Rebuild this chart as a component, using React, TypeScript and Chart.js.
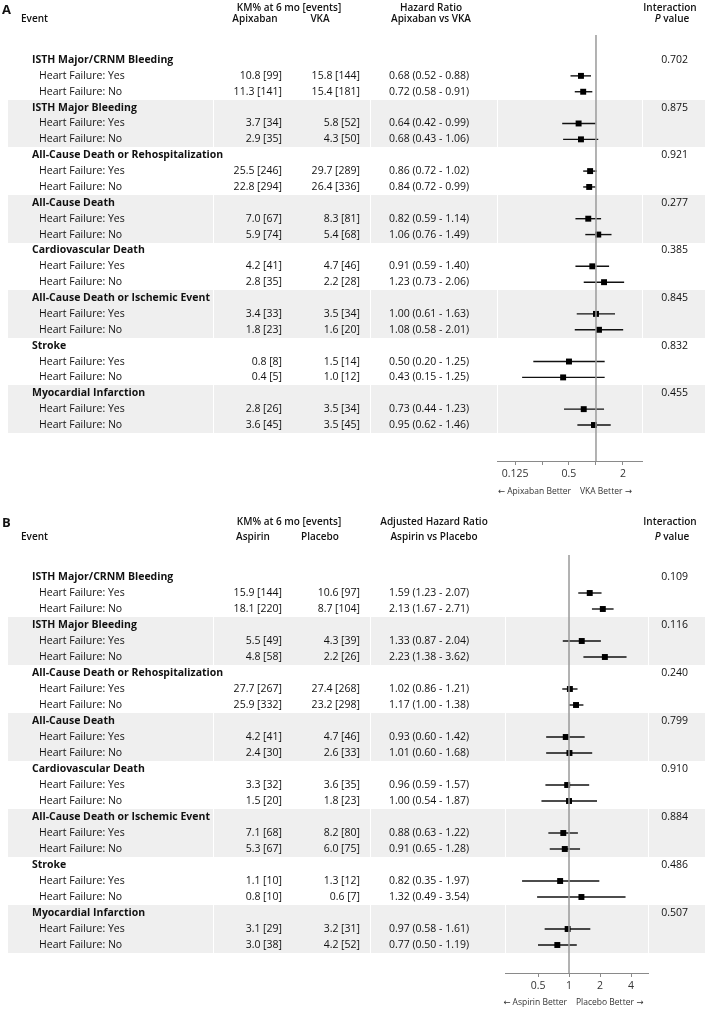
import React, { useEffect, useRef } from "react";
import { Chart, registerables } from "chart.js";
Chart.register(...registerables);

const FONT = "'Open Sans', 'Noto Sans', 'DejaVu Sans', sans-serif";

// ---------- shared ----------
const eventGroups = [
  "ISTH Major/CRNM Bleeding",
  "ISTH Major Bleeding",
  "All-Cause Death or Rehospitalization",
  "All-Cause Death",
  "Cardiovascular Death",
  "All-Cause Death or Ischemic Event",
  "Stroke",
  "Myocardial Infarction",
];
const subgroups = ["Heart Failure: Yes", "Heart Failure: No"];

// ---------- Panel A: Apixaban vs VKA ----------
const kmApixaban = [
  "10.8 [99]", "11.3 [141]", "3.7 [34]", "2.9 [35]", "25.5 [246]", "22.8 [294]", "7.0 [67]", "5.9 [74]",
  "4.2 [41]", "2.8 [35]", "3.4 [33]", "1.8 [23]", "0.8 [8]", "0.4 [5]", "2.8 [26]", "3.6 [45]",
];
const kmVKA = [
  "15.8 [144]", "15.4 [181]", "5.8 [52]", "4.3 [50]", "29.7 [289]", "26.4 [336]", "8.3 [81]", "5.4 [68]",
  "4.7 [46]", "2.2 [28]", "3.5 [34]", "1.6 [20]", "1.5 [14]", "1.0 [12]", "3.5 [34]", "3.5 [45]",
];
const hrA = [0.68, 0.72, 0.64, 0.68, 0.86, 0.84, 0.82, 1.06, 0.91, 1.23, 1.0, 1.08, 0.5, 0.43, 0.73, 0.95];
const loA = [0.52, 0.58, 0.42, 0.43, 0.72, 0.72, 0.59, 0.76, 0.59, 0.73, 0.61, 0.58, 0.2, 0.15, 0.44, 0.62];
const hiA = [0.88, 0.91, 0.99, 1.06, 1.02, 0.99, 1.14, 1.49, 1.4, 2.06, 1.63, 2.01, 1.25, 1.25, 1.23, 1.46];
const pA = ["0.702", "0.875", "0.921", "0.277", "0.385", "0.845", "0.832", "0.455"];
const ticksA = [0.125, 0.25, 0.5, 1, 2];
const tickLabelsA = ["0.125", "", "0.5", "", "2"];

// ---------- Panel B: Aspirin vs Placebo ----------
const kmAspirin = [
  "15.9 [144]", "18.1 [220]", "5.5 [49]", "4.8 [58]", "27.7 [267]", "25.9 [332]", "4.2 [41]", "2.4 [30]",
  "3.3 [32]", "1.5 [20]", "7.1 [68]", "5.3 [67]", "1.1 [10]", "0.8 [10]", "3.1 [29]", "3.0 [38]",
];
const kmPlacebo = [
  "10.6 [97]", "8.7 [104]", "4.3 [39]", "2.2 [26]", "27.4 [268]", "23.2 [298]", "4.7 [46]", "2.6 [33]",
  "3.6 [35]", "1.8 [23]", "8.2 [80]", "6.0 [75]", "1.3 [12]", "0.6 [7]", "3.2 [31]", "4.2 [52]",
];
const hrB = [1.59, 2.13, 1.33, 2.23, 1.02, 1.17, 0.93, 1.01, 0.96, 1.0, 0.88, 0.91, 0.82, 1.32, 0.97, 0.77];
const loB = [1.23, 1.67, 0.87, 1.38, 0.86, 1.0, 0.6, 0.6, 0.59, 0.54, 0.63, 0.65, 0.35, 0.49, 0.58, 0.5];
const hiB = [2.07, 2.71, 2.04, 3.62, 1.21, 1.38, 1.42, 1.68, 1.57, 1.87, 1.22, 1.28, 1.97, 3.54, 1.61, 1.19];
const pB = ["0.109", "0.116", "0.240", "0.799", "0.910", "0.884", "0.486", "0.507"];
const ticksB = [0.5, 1, 2, 4];
const tickLabelsB = ["0.5", "1", "2", "4"];

type PanelDef = {
  letter: string;
  kmTitle: string;
  arm1: string;
  arm2: string;
  hrTitle1: string;
  hrTitle2: string;
  col1: string[];
  col2: string[];
  hr: number[];
  lo: number[];
  hi: number[];
  pvals: string[];
  tickValues: number[];
  tickLabels: string[];
  xMin: number;
  xMax: number;
  padLeft: number;
  padRight: number;
  top: number;
  bottom: number;
  row0: number;
  rowStep: number;
  hdrY1: number;
  hdrY2: number;
  letterY: number;
  arm1X: number;
  arm2X: number;
  hrX: number;
  arrowLeft: string;
  arrowRight: string;
  arrowMid: number;
  arrowY: number;
};

const H = 505;

const panelA: PanelDef = {
  letter: "A",
  kmTitle: "KM% at 6 mo [events]",
  arm1: "Apixaban",
  arm2: "VKA",
  hrTitle1: "Hazard Ratio",
  hrTitle2: "Apixaban vs VKA",
  col1: kmApixaban,
  col2: kmVKA,
  hr: hrA,
  lo: loA,
  hi: hiA,
  pvals: pA,
  tickValues: ticksA,
  tickLabels: tickLabelsA,
  xMin: 0.0787,
  xMax: 3.26,
  padLeft: 497,
  padRight: 67,
  top: 35,
  bottom: 461,
  row0: 60,
  rowStep: 15.87,
  hdrY1: 8,
  hdrY2: 19,
  letterY: 10,
  arm1X: 255,
  arm2X: 320,
  hrX: 431,
  arrowLeft: "\u2190 Apixaban Better",
  arrowRight: "VKA Better \u2192",
  arrowMid: 575,
  arrowY: 492,
};

const panelB: PanelDef = {
  letter: "B",
  kmTitle: "KM% at 6 mo [events]",
  arm1: "Aspirin",
  arm2: "Placebo",
  hrTitle1: "Adjusted Hazard Ratio",
  hrTitle2: "Aspirin vs Placebo",
  col1: kmAspirin,
  col2: kmPlacebo,
  hr: hrB,
  lo: loB,
  hi: hiB,
  pvals: pB,
  tickValues: ticksB,
  tickLabels: tickLabelsB,
  xMin: 0.239,
  xMax: 5.85,
  padLeft: 505,
  padRight: 61,
  top: 50,
  bottom: 468,
  row0: 72,
  rowStep: 16,
  hdrY1: 17,
  hdrY2: 32,
  letterY: 18,
  arm1X: 253,
  arm2X: 320,
  hrX: 434,
  arrowLeft: "\u2190 Aspirin Better",
  arrowRight: "Placebo Better \u2192",
  arrowMid: 571,
  arrowY: 498,
};

const rowOf = (i: number) => Math.floor(i / 2) * 3 + 1 + (i % 2);
const fmt = (v: number) => v.toFixed(2);

function tablePlugin(p: PanelDef) {
  return {
    id: "table" + p.letter,
    beforeDraw(chart: any) {
      const ctx = chart.ctx;
      const y = chart.scales.y;
      const ca = chart.chartArea;
      ctx.save();
      for (let g = 1; g < eventGroups.length; g += 2) {
        const t = Math.round(y.getPixelForValue(g * 3 - 0.5));
        const b = Math.round(y.getPixelForValue(g * 3 + 2.5));
        ctx.fillStyle = "#efefef";
        ctx.fillRect(8, t, 697, b - t);
        ctx.fillStyle = "#ffffff";
        for (const sx of [213, 370, Math.round(ca.left), Math.round(ca.right)]) {
          ctx.fillRect(sx, t, 1, b - t);
        }
      }
      ctx.restore();
    },
    afterDraw(chart: any) {
      const ctx = chart.ctx;
      const y = chart.scales.y;
      const ink = "#111";
      ctx.save();
      ctx.textBaseline = "middle";
      ctx.fillStyle = ink;
      // panel letter
      ctx.font = `bold 13px ${FONT}`;
      ctx.textAlign = "left";
      ctx.fillText(p.letter, 2, p.letterY);
      // headers
      const hb = `600 10px ${FONT}`;
      ctx.font = hb;
      ctx.textAlign = "center";
      ctx.fillText(p.kmTitle, 289, p.hdrY1);
      ctx.fillText(p.hrTitle1, p.hrX, p.hdrY1);
      ctx.fillText("Interaction", 670, p.hdrY1);
      ctx.fillText(p.arm1, p.arm1X, p.hdrY2);
      ctx.fillText(p.arm2, p.arm2X, p.hdrY2);
      ctx.fillText(p.hrTitle2, p.hrX, p.hdrY2);
      ctx.textAlign = "left";
      ctx.fillText("Event", 21, p.hdrY2);
      // "P value" with italic P
      const italicFont = `italic 600 10px ${FONT}`;
      ctx.font = italicFont;
      const wP = ctx.measureText("P").width;
      ctx.font = hb;
      const wV = ctx.measureText(" value").width;
      const start = 672 - (wP + wV) / 2;
      ctx.font = italicFont;
      ctx.fillText("P", start, p.hdrY2);
      ctx.font = hb;
      ctx.fillText(" value", start + wP, p.hdrY2);

      // rows
      eventGroups.forEach((name, g) => {
        const yy = y.getPixelForValue(g * 3);
        ctx.font = `bold 10.5px ${FONT}`;
        ctx.textAlign = "left";
        ctx.fillText(name, 32, yy);
        ctx.font = `10.5px ${FONT}`;
        ctx.textAlign = "right";
        ctx.fillText(p.pvals[g], 688, yy);
      });
      p.hr.forEach((v, i) => {
        const yy = y.getPixelForValue(rowOf(i));
        ctx.font = `10.5px ${FONT}`;
        ctx.textAlign = "left";
        ctx.fillText(subgroups[i % 2], 39, yy);
        ctx.textAlign = "right";
        ctx.fillText(p.col1[i], 282, yy);
        ctx.fillText(p.col2[i], 360, yy);
        ctx.textAlign = "left";
        ctx.fillText(`${fmt(v)} (${fmt(p.lo[i])} - ${fmt(p.hi[i])})`, 389, yy);
      });

      // arrows under axis
      ctx.font = `8.5px ${FONT}`;
      ctx.fillStyle = "#333";
      ctx.textAlign = "right";
      ctx.fillText(p.arrowLeft, p.arrowMid - 4, p.arrowY);
      ctx.textAlign = "left";
      ctx.fillText(p.arrowRight, p.arrowMid + 5, p.arrowY);
      ctx.restore();
    },
  };
}

function makeConfig(p: PanelDef): any {
  const yMin = (p.top - p.row0) / p.rowStep;
  const yMax = (p.bottom - p.row0) / p.rowStep;
  const datasets: any[] = [
    {
      data: [
        { x: 1, y: yMin },
        { x: 1, y: yMax },
      ],
      showLine: true,
      borderColor: "#9a9a9a",
      borderWidth: 1.5,
      pointRadius: 0,
      order: 0,
    },
    {
      data: p.hr.map((v, i) => ({ x: v, y: rowOf(i) })),
      pointStyle: "rect",
      pointRadius: 4.2,
      backgroundColor: "#000",
      borderColor: "#000",
      borderWidth: 0,
      order: 1,
    },
    ...p.hr.map((_, i) => ({
      data: [
        { x: p.lo[i], y: rowOf(i) },
        { x: p.hi[i], y: rowOf(i) },
      ],
      showLine: true,
      borderColor: "#111",
      borderWidth: 1.4,
      pointRadius: 0,
      order: 2,
    })),
  ];
  return {
    type: "scatter",
    data: { datasets },
    options: {
      responsive: false,
      animation: false,
      events: [],
      layout: { padding: { left: p.padLeft, right: p.padRight, top: p.top, bottom: 0 } },
      plugins: { legend: { display: false }, tooltip: { enabled: false } },
      scales: {
        x: {
          type: "logarithmic",
          min: p.xMin,
          max: p.xMax,
          afterBuildTicks: (s: any) => {
            s.ticks = p.tickValues.map((v) => ({ value: v }));
          },
          afterFit: (s: any) => {
            s.height = H - p.bottom;
          },
          ticks: {
            autoSkip: false,
            maxRotation: 0,
            padding: 3,
            color: "#333",
            font: { family: FONT, size: 10.5 },
            callback: (_v: any, idx: number) => p.tickLabels[idx] ?? "",
          },
          grid: { drawOnChartArea: false, drawTicks: true, tickLength: 4, color: "#8a8a8a", lineWidth: 1 },
          border: { display: true, color: "#8a8a8a", width: 1 },
        },
        y: { type: "linear", display: false, min: yMin, max: yMax, reverse: true },
      },
    },
    plugins: [tablePlugin(p)],
  };
}

function Panel({ def, top }: { def: PanelDef; top: number }) {
  const ref = useRef<HTMLCanvasElement | null>(null);
  useEffect(() => {
    if (!ref.current) return;
    const chart = new Chart(ref.current, makeConfig(def));
    return () => chart.destroy();
  }, [def]);
  return (
    <canvas
      ref={ref}
      width={709}
      height={H}
      style={{ position: "absolute", left: 0, top, width: 709, height: H, display: "block" }}
    />
  );
}

export default function App() {
  return (
    <div style={{ position: "absolute", left: 0, top: 0, width: 709, height: 1010, background: "#fff" }}>
      <Panel def={panelA} top={0} />
      <Panel def={panelB} top={505} />
    </div>
  );
}
